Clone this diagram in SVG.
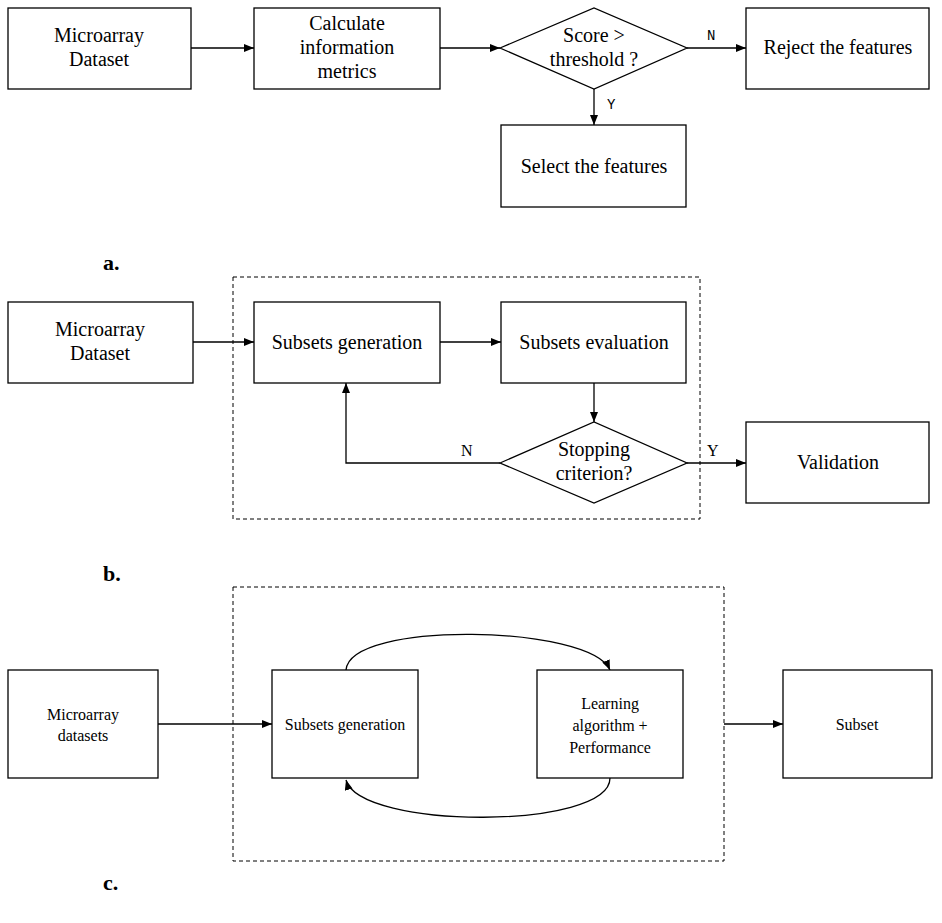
<svg xmlns="http://www.w3.org/2000/svg" width="942" height="923" viewBox="0 0 942 923">
<defs>
<marker id="ah" markerWidth="10" markerHeight="8" refX="10" refY="4" orient="auto" markerUnits="userSpaceOnUse"><path d="M0,0 L10,4 L0,8 Z" fill="#000"/></marker>
<style>
.b{fill:#fff;stroke:#000;stroke-width:1.3}
.t{font-family:"Liberation Serif",serif;font-size:20px;text-anchor:middle;fill:#000}
.s{font-family:"Liberation Serif",serif;font-size:16px;text-anchor:middle;fill:#000}
.m{font-family:"Liberation Mono",monospace;font-size:14px;fill:#000}
.l{font-family:"Liberation Serif",serif;font-size:16px;fill:#000}
.p{font-family:"Liberation Serif",serif;font-size:22px;font-weight:bold;fill:#000}
.c{fill:none;stroke:#000;stroke-width:1.3}
.d{fill:none;stroke:#000;stroke-width:1;stroke-dasharray:4,3}
</style>
</defs>
<rect width="942" height="923" fill="#fff"/>
<rect class="d" x="233" y="277" width="467" height="242"/>
<rect class="d" x="233" y="587" width="491" height="274"/>
<g id="connectors">
<line class="c" x1="191" y1="48" x2="254" y2="48" marker-end="url(#ah)"/>
<line class="c" x1="440" y1="48" x2="500" y2="48" marker-end="url(#ah)"/>
<line class="c" x1="687" y1="48" x2="746" y2="48" marker-end="url(#ah)"/>
<line class="c" x1="594" y1="89" x2="594" y2="125" marker-end="url(#ah)"/>
<text class="m" x="707" y="40">N</text>
<text class="m" x="607" y="109">Y</text>
<line class="c" x1="193" y1="342" x2="254" y2="342" marker-end="url(#ah)"/>
<line class="c" x1="440" y1="342" x2="501" y2="342" marker-end="url(#ah)"/>
<line class="c" x1="594" y1="383" x2="594" y2="422" marker-end="url(#ah)"/>
<polyline class="c" points="500,463 346,463 346,383" marker-end="url(#ah)"/>
<line class="c" x1="687" y1="463" x2="746" y2="463" marker-end="url(#ah)"/>
<text class="l" x="461" y="456">N</text>
<text class="l" x="707" y="456">Y</text>
<line class="c" x1="158" y1="724" x2="272" y2="724" marker-end="url(#ah)"/>
<line class="c" x1="724" y1="724" x2="783" y2="724" marker-end="url(#ah)"/>
<path class="c" d="M346,670 C350,620 590,625 610,670" marker-end="url(#ah)"/>
<path class="c" d="M610,778 C610,830 360,830 346,780" marker-end="url(#ah)"/>
</g>
<g id="a1"><rect class="b" x="8" y="8" width="183" height="81"/><text class="t" x="99" y="42">Microarray</text><text class="t" x="99" y="66">Dataset</text></g>
<g id="a2"><rect class="b" x="254" y="8" width="186" height="81"/><text class="t" x="347" y="30">Calculate</text><text class="t" x="347" y="54">information</text><text class="t" x="347" y="78">metrics</text></g>
<g id="a3"><polygon class="b" points="500,48 594,8 687,48 594,89"/><text class="t" x="594" y="42">Score &gt;</text><text class="t" x="594" y="66">threshold ?</text></g>
<g id="a4"><rect class="b" x="746" y="8" width="183" height="81"/><text class="t" x="838" y="54">Reject the features</text></g>
<g id="a5"><rect class="b" x="501" y="125" width="185" height="82"/><text class="t" x="594" y="173">Select the features</text></g>
<text class="p" x="103" y="270">a.</text>
<g id="b1"><rect class="b" x="8" y="302" width="185" height="81"/><text class="t" x="100" y="336">Microarray</text><text class="t" x="100" y="360">Dataset</text></g>
<g id="b2"><rect class="b" x="254" y="302" width="186" height="81"/><text class="t" x="347" y="349">Subsets generation</text></g>
<g id="b3"><rect class="b" x="501" y="302" width="185" height="81"/><text class="t" x="594" y="349">Subsets evaluation</text></g>
<g id="b4"><polygon class="b" points="500,463 594,422 687,463 594,503"/><text class="t" x="594" y="456">Stopping</text><text class="t" x="594" y="480">criterion?</text></g>
<g id="b5"><rect class="b" x="746" y="422" width="183" height="81"/><text class="t" x="838" y="469">Validation</text></g>
<text class="p" x="103" y="581">b.</text>
<g id="c1"><rect class="b" x="8" y="670" width="150" height="108"/><text class="s" x="83" y="720">Microarray</text><text class="s" x="83" y="741">datasets</text></g>
<g id="c2"><rect class="b" x="272" y="670" width="146" height="108"/><text class="s" x="345" y="730">Subsets generation</text></g>
<g id="c3"><rect class="b" x="537" y="670" width="146" height="108"/><text class="s" x="610" y="709">Learning</text><text class="s" x="610" y="731">algorithm +</text><text class="s" x="610" y="753">Performance</text></g>
<g id="c4"><rect class="b" x="783" y="670" width="149" height="108"/><text class="s" x="857" y="730">Subset</text></g>
<text class="p" x="103" y="890">c.</text>
</svg>
